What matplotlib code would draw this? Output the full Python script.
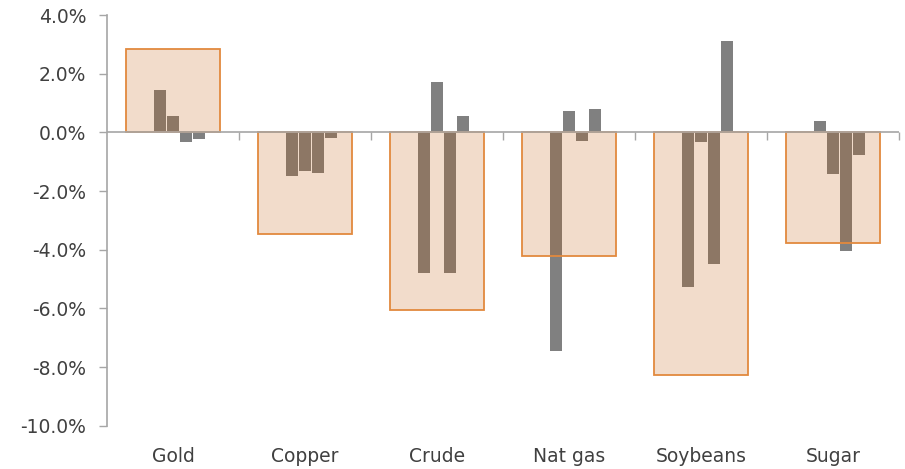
import matplotlib
matplotlib.use("Agg")
import matplotlib.pyplot as plt
import numpy as np
from matplotlib.ticker import FuncFormatter

categories = ["Gold", "Copper", "Crude", "Nat gas", "Soybeans", "Sugar"]
total = [2.85, -3.48, -6.04, -4.21, -8.28, -3.77]
series1 = [1.44, -1.49, -4.81, -7.45, -5.27, 0.40]
series2 = [0.57, -1.32, 1.73, 0.74, -0.34, -1.43]
series3 = [-0.34, -1.40, -4.81, -0.29, -4.49, -4.05]
series4 = [-0.24, -0.18, 0.57, 0.80, 3.13, -0.77]
yticks = [4, 2, 0, -2, -4, -6, -8, -10]

fig = plt.figure(figsize=(9.05, 4.69), dpi=100)
ax = fig.add_axes([107/905, 1-425.7/469, (899-107)/905, (425.7-15)/469])

x = np.arange(len(categories))
gray_series = [series1, series2, series3, series4]
step = 0.0985
bw = 0.084
for i, s in enumerate(gray_series):
    ax.bar(x + (i - 1) * step, s, width=bw, color="#808080", zorder=2, linewidth=0)

ax.bar(x, total, width=0.71, facecolor=(0.77, 0.33, 0.0, 0.205),
       edgecolor="#E2893E", linewidth=1.3, zorder=3)

ax.set_xlim(-0.5, 5.5)
ax.set_ylim(-10, 4)
ax.axhline(0, color="#A6A6A6", linewidth=1.2, zorder=4)

ax.set_yticks(yticks)
ax.yaxis.set_major_formatter(FuncFormatter(lambda v, p: f"{v:.1f}%"))
ax.tick_params(axis="y", length=6, width=1, color="#A6A6A6", pad=9,
               labelsize=13.5, labelcolor="#404040")

ax.set_xticks(x)
ax.set_xticklabels(categories)
ax.tick_params(axis="x", length=0, pad=15, labelsize=13.5, labelcolor="#404040")

for side in ["top", "right", "bottom"]:
    ax.spines[side].set_visible(False)
ax.spines["left"].set_color("#A6A6A6")
ax.spines["left"].set_linewidth(1.2)

sec = ax.secondary_xaxis(10/14)
sec.set_xticks(np.arange(0.5, 6, 1))
sec.set_xticklabels([])
sec.xaxis.set_ticks_position("bottom")
sec.tick_params(axis="x", which="both", direction="out", length=6, width=1,
                color="#A6A6A6", top=False, bottom=True, labelbottom=False, labeltop=False)
sec.spines["bottom"].set_visible(False)
sec.spines["top"].set_visible(False)

fig.savefig("out.png", dpi=100)
